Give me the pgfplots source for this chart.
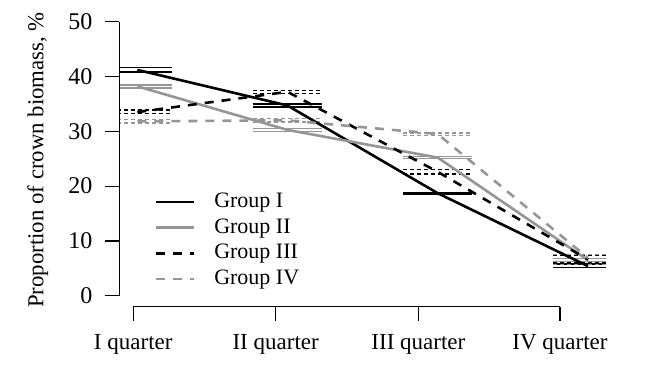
\documentclass[border=0pt]{standalone}
\usepackage{pgfplots}
\pgfplotsset{compat=1.18}
\usepackage{fontspec}
\setmainfont{Liberation Serif}
\definecolor{grayline}{RGB}{150,150,150}
\begin{document}
\begin{tikzpicture}
\begin{axis}[
  name=ax,
  anchor=south west,
  at={(0pt,0pt)},
  scale only axis,
  width=243.35pt, height=148pt,
  xmin=0.88, xmax=4.12, ymin=-2, ymax=52,
  axis x line*=bottom, axis y line*=left,
  axis line style={draw=none},
  clip mode=individual,
  unbounded coords=jump,
  /pgf/number format/assume math mode=true,
  tick align=outside,
  major tick length=7pt,
  tick style={black, line width=0.6pt},
  xtick={0.973,1.921,2.871,3.814},
  xticklabels={I quarter, II quarter, III quarter, IV quarter},
  ytick={0,10,20,30,40,50},
  xticklabel style={font=\fontsize{11.5}{13}\selectfont, inner sep=0pt, anchor=north, yshift=-6.5pt},
  yticklabel style={font=\fontsize{12}{14}\selectfont, inner sep=0pt, anchor=east, xshift=-6.3pt},
  ylabel={Proportion of crown biomass, \%},
  every axis y label/.style={at={([xshift=-38pt]rel axis cs:0,0.4956)}, rotate=90, anchor=base, font=\fontsize{11.4}{13}\selectfont},
  legend style={draw=none, fill=none, at={(axis cs:1.073,19.85)}, anchor=north west,
    font=\fontsize{11}{13}\selectfont, row sep=2.35pt,
    nodes={inner sep=0pt, text height=8pt, text depth=2.5pt},
    /tikz/every odd column/.append style={column sep=9.5pt}},
  legend cell align=left,
  legend image code/.code={\draw[#1] (0pt,0pt) -- (19pt,0pt);},
]
% error bars (mean - SE, mean + SE)
\addplot[forget plot, black, line width=0.65pt] coordinates {
 (0.77,40.8) (1.23,40.8) (nan,nan) (0.77,41.6) (1.23,41.6) (nan,nan)
 (1.77,34.45) (2.23,34.45) (nan,nan) (1.77,35.0) (2.23,35.0) (nan,nan)
 (2.77,18.55) (3.23,18.55) (nan,nan) (2.77,18.85) (3.23,18.85) (nan,nan)
 (3.77,5.1) (4.23,5.1) (nan,nan) (3.77,5.8) (4.23,5.8)};
\addplot[forget plot, grayline, line width=0.65pt] coordinates {
 (0.77,37.9) (1.23,37.9) (nan,nan) (0.77,38.45) (1.23,38.45) (nan,nan)
 (1.77,30.0) (2.23,30.0) (nan,nan) (1.77,30.45) (2.23,30.45) (nan,nan)
 (2.77,25.0) (3.23,25.0) (nan,nan) (2.77,25.4) (3.23,25.4) (nan,nan)
 (3.77,6.2) (4.23,6.2) (nan,nan) (3.77,6.8) (4.23,6.8)};
\addplot[forget plot, black, line width=0.6pt, dash pattern=on 2pt off 1.5pt] coordinates {
 (0.77,33.2) (1.23,33.2) (nan,nan) (0.77,33.9) (1.23,33.9) (nan,nan)
 (1.77,36.9) (2.23,36.9) (nan,nan) (1.77,37.5) (2.23,37.5) (nan,nan)
 (2.77,22.2) (3.23,22.2) (nan,nan) (2.77,23.0) (3.23,23.0) (nan,nan)
 (3.77,6.0) (4.23,6.0) (nan,nan) (3.77,7.3) (4.23,7.3)};
\addplot[forget plot, grayline, line width=0.6pt, dash pattern=on 2pt off 1.5pt] coordinates {
 (0.77,31.5) (1.23,31.5) (nan,nan) (0.77,32.1) (1.23,32.1) (nan,nan)
 (1.77,31.7) (2.23,31.7) (nan,nan) (1.77,32.3) (2.23,32.3) (nan,nan)
 (2.77,29.3) (3.23,29.3) (nan,nan) (2.77,29.7) (3.23,29.7) (nan,nan)
 (3.77,5.7) (4.23,5.7) (nan,nan) (3.77,7.5) (4.23,7.5)};
% means
\addplot[black, line width=1.3pt] coordinates {(1,41.2) (2,34.7) (3,18.7) (4,5.4)};
\addlegendentry{Group I}
\addplot[grayline, line width=1.3pt] coordinates {(1,38.2) (2,30.25) (3,25.2) (4,6.5)};
\addlegendentry{Group II}
\addplot[black, line width=1.3pt, dash pattern=on 4.5pt off 4pt] coordinates {(1,33.5) (2,37.2) (3,22.6) (4,6.6)};
\addlegendentry{Group III}
\addplot[grayline, line width=1.3pt, dash pattern=on 4.5pt off 4pt] coordinates {(1,31.8) (2,32.0) (3,29.5) (4,6.9)};
\addlegendentry{Group IV}
% R-style axis lines
\draw[black, line width=0.6pt] (axis cs:0.973,-2) -- (axis cs:3.814,-2);
\draw[black, line width=0.6pt] (axis cs:0.88,0) -- (axis cs:0.88,50);
\end{axis}
\pgfresetboundingbox
\path (-59.65pt,-29.15pt) rectangle (262.85pt,153.35pt);
\end{tikzpicture}
\end{document}
